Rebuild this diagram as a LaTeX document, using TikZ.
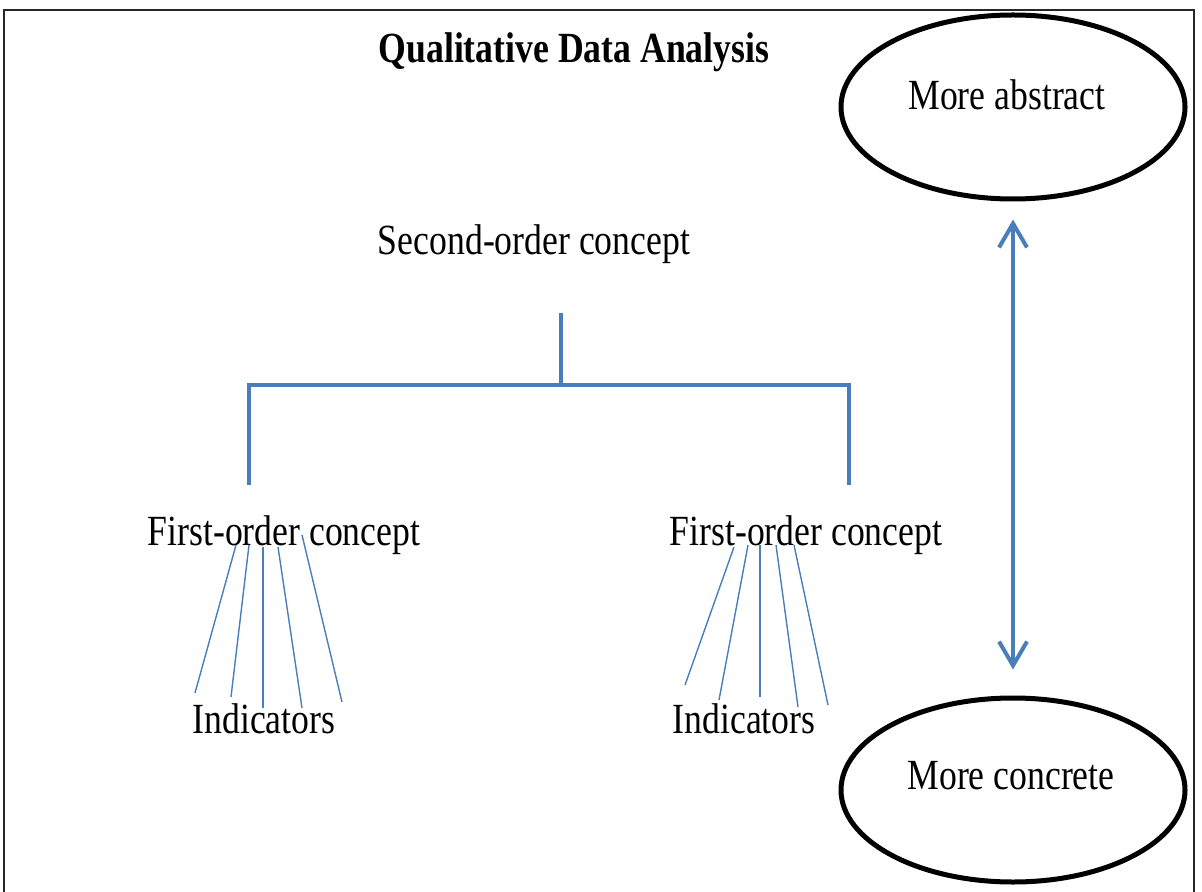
\documentclass[tikz,border=0pt]{standalone}
\usepackage{fontspec}
\setmainfont{Liberation Serif}[FakeStretch=0.83]
\usetikzlibrary{arrows.meta,shapes.geometric}
\definecolor{lineblue}{HTML}{4A7EBB}
\tikzset{
  lbl/.style={inner sep=0pt, anchor=base, font=\fontsize{21.5pt}{24pt}\selectfont},
  ttl/.style={lbl, font=\fontsize{21.5pt}{24pt}\selectfont\bfseries},
  oval/.style={draw=black, line width=2.5pt, ellipse, minimum width=172pt, minimum height=92pt, inner sep=0pt},
  tree/.style={draw=lineblue, line width=2pt},
  fan/.style={draw=lineblue, line width=0.7pt},
  updown/.style={draw=lineblue, line width=2pt, {Straight Barb[length=12pt,width=14pt,line width=2pt]}-{Straight Barb[length=12pt,width=14pt,line width=2pt]}}
}
\begin{document}
\begin{tikzpicture}[x=0.5pt, y=-0.5pt]
\useasboundingbox (0,0) rectangle (1202,892);
% frame (open at the bottom)
\draw[line width=1pt, black!85] (4,892) -- (4,10) -- (1194,10) -- (1194,892);

% title and texts
\node[ttl] (title) at (574,63) {Qualitative Data Analysis};
\node[lbl] (sec) at (534,255) {Second-order concept};
\node[lbl] (fa) at (284,545) {First-order concept};
\node[lbl] (fb) at (806,545) {First-order concept};
\node[lbl] (ia) at (264,733) {Indicators};
\node[lbl] (ib) at (744,733) {Indicators};

% ellipses
\node[oval] (abs) at (1013,107) {};
\node[lbl] (absT) at (1007,110) {More abstract};
\node[oval] (con) at (1013,790) {};
\node[lbl] (conT) at (1011,789) {More concrete};

% double arrow
\draw[updown, shorten <=9pt, shorten >=13pt] (abs.south) -- (con.north);

% tree
\coordinate (stemTop) at (561,313);
\coordinate (junc) at (561,385);
\coordinate (lCorner) at (249,385);
\coordinate (rCorner) at (849,385);
\coordinate (lDrop) at (249,485);
\coordinate (rDrop) at (849,485);
\draw[tree] (stemTop) -- (junc);
\draw[tree, line join=miter] (lDrop) -- (lCorner) -- (rCorner) -- (rDrop);

% left fan
\coordinate (la1) at (236,545); \coordinate (lb1) at (195,693);
\coordinate (la2) at (249,545); \coordinate (lb2) at (231,697);
\coordinate (la3) at (263,547); \coordinate (lb3) at (263,708);
\coordinate (la4) at (278,547); \coordinate (lb4) at (302,708);
\coordinate (la5) at (302,535); \coordinate (lb5) at (342,702);
\foreach \i in {1,...,5} { \draw[fan] (la\i) -- (lb\i); }

% right fan
\coordinate (ra1) at (734,547); \coordinate (rb1) at (685,685);
\coordinate (ra2) at (748,545); \coordinate (rb2) at (719,700);
\coordinate (ra3) at (760,545); \coordinate (rb3) at (760,697);
\coordinate (ra4) at (776,545); \coordinate (rb4) at (798,707);
\coordinate (ra5) at (794,545); \coordinate (rb5) at (828,705);
\foreach \i in {1,...,5} { \draw[fan] (ra\i) -- (rb\i); }
\end{tikzpicture}
\end{document}
